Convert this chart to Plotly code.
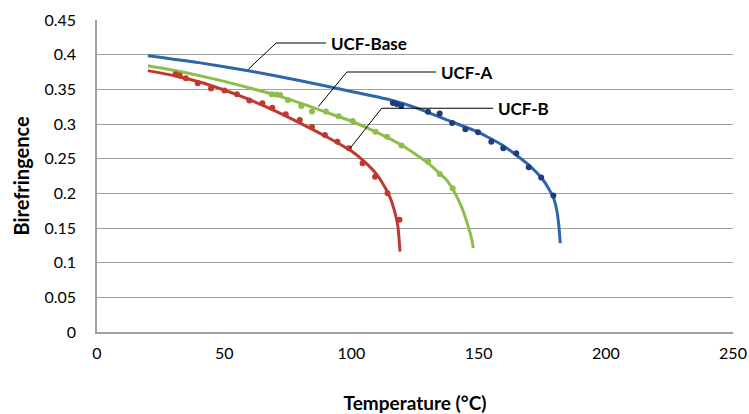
import plotly.graph_objects as go

# ---- data ----
base_fit_t = [20, 40, 60, 80, 100, 115, 125, 137.5, 150, 160, 170, 175, 177.5, 179.5, 180.7, 181.5, 182.1]
base_fit_n = [0.3985, 0.3885, 0.3765, 0.3625, 0.347, 0.335, 0.324, 0.306, 0.288, 0.268, 0.240, 0.221, 0.207, 0.193, 0.176, 0.155, 0.128]
base_pts_t = [116.3, 117.8, 119.6, 130.1, 134.7, 139.6, 144.8, 149.8, 155.0, 159.7, 164.8, 169.7, 174.6, 179.4]
base_pts_n = [0.3302, 0.3290, 0.3260, 0.3178, 0.3150, 0.3015, 0.2923, 0.2880, 0.2745, 0.2650, 0.2578, 0.2375, 0.2228, 0.1968]

a_fit_t = [20, 30, 40, 50, 60, 70, 80, 90, 100, 110, 120, 130, 137.5, 140, 143, 145, 146.5, 147.5, 147.9]
a_fit_n = [0.384, 0.3775, 0.370, 0.3615, 0.352, 0.342, 0.330, 0.317, 0.304, 0.288, 0.269, 0.244, 0.219, 0.205, 0.183, 0.163, 0.145, 0.130, 0.121]
a_pts_t = [68.7, 70.5, 72.0, 75.0, 80.3, 84.5, 90.0, 95.0, 100.5, 109.5, 114.0, 119.7, 130.2, 134.7, 139.8]
a_pts_n = [0.3430, 0.3425, 0.3418, 0.3346, 0.3260, 0.3180, 0.3180, 0.3112, 0.3045, 0.2890, 0.2815, 0.2690, 0.2456, 0.2280, 0.2072]

b_fit_t = [20, 30, 40, 50, 60, 70, 80, 90, 100, 105, 110, 113, 115, 117, 118.3, 119.1]
b_fit_n = [0.377, 0.370, 0.361, 0.349, 0.335, 0.319, 0.301, 0.282, 0.261, 0.246, 0.227, 0.210, 0.196, 0.174, 0.152, 0.116]
b_pts_t = [30.9, 32.5, 34.9, 39.6, 44.8, 50.1, 55.0, 59.9, 65.0, 68.9, 74.2, 79.7, 84.5, 89.6, 94.5, 99.0, 104.4, 109.3, 114.2, 118.9]
b_pts_n = [0.3717, 0.3700, 0.3660, 0.3587, 0.3512, 0.3483, 0.3430, 0.3340, 0.3300, 0.3235, 0.3140, 0.3058, 0.2955, 0.2840, 0.2745, 0.2650, 0.2433, 0.2240, 0.2000, 0.1620]

x_ticks = [0, 50, 100, 150, 200, 250]
y_ticks = [0, 0.05, 0.1, 0.15, 0.2, 0.25, 0.3, 0.35, 0.4, 0.45]
y_ticktext = ["0", "0.05", "0.1", "0.15", "0.2", "0.25", "0.3", "0.35", "0.4", "0.45"]

BLUE_LINE, BLUE_DOT = "#2F66AA", "#1F3C7C"
GREEN = "#8DBD4A"
RED = "#C0392F"
FONT = "Lato"

fig = go.Figure()
fig.add_trace(go.Scatter(x=base_fit_t, y=base_fit_n, mode="lines", line=dict(color=BLUE_LINE, width=3, shape="spline", smoothing=0.5), showlegend=False))
fig.add_trace(go.Scatter(x=a_fit_t, y=a_fit_n, mode="lines", line=dict(color=GREEN, width=3, shape="spline", smoothing=0.5), showlegend=False))
fig.add_trace(go.Scatter(x=b_fit_t, y=b_fit_n, mode="lines", line=dict(color=RED, width=3, shape="spline", smoothing=0.5), showlegend=False))
fig.add_trace(go.Scatter(x=base_pts_t, y=base_pts_n, mode="markers", marker=dict(color=BLUE_DOT, size=6), showlegend=False))
fig.add_trace(go.Scatter(x=a_pts_t, y=a_pts_n, mode="markers", marker=dict(color=GREEN, size=6), showlegend=False))
fig.add_trace(go.Scatter(x=b_pts_t, y=b_pts_n, mode="markers", marker=dict(color=RED, size=6), showlegend=False))

# leader lines + labels
labels = [
    ("UCF-Base", [(59.5, 0.379), (70.4, 0.4168), (90.0, 0.4168)]),
    ("UCF-A", [(87.0, 0.325), (98.2, 0.375), (133.3, 0.375)]),
    ("UCF-B", [(99.5, 0.265), (111.9, 0.3227), (155.8, 0.3227)]),
]
for text, pts in labels:
    path = "M " + " L ".join(f"{x},{y}" for x, y in pts)
    fig.add_shape(type="path", path=path, xref="x", yref="y", line=dict(color="black", width=1))
    fig.add_annotation(x=pts[-1][0] + 1.2, y=pts[-1][1], text=f"<b>{text}</b>", showarrow=False,
                       xanchor="left", yanchor="middle", font=dict(family=FONT, size=17, color="black"))

fig.update_layout(
    width=749, height=414,
    margin=dict(l=97, r=16, t=20, b=82),
    paper_bgcolor="white", plot_bgcolor="white",
    font=dict(family=FONT, size=16, color="black"),
)
fig.update_xaxes(range=[0, 250], tickvals=x_ticks, showgrid=False, zeroline=False, automargin=False,
                 showline=True, linecolor="#A0A0A0", linewidth=1.5, ticks="", ticklabelstandoff=6,
                 title=dict(text="<b>Temperature (°C)</b>", font=dict(family=FONT, size=19), standoff=36))
fig.update_yaxes(range=[0, 0.45], tickvals=y_ticks, ticktext=y_ticktext, showgrid=True,
                 gridcolor="#A0A0A0", gridwidth=1, zeroline=False, automargin=False,
                 showline=True, linecolor="#A0A0A0", linewidth=1.5, ticks="", ticklabelstandoff=16,
                 title=dict(text="<b>Birefringence</b>", font=dict(family=FONT, size=20), standoff=9))

fig.write_html("out.html", config={"displayModeBar": False},
               post_script="document.body.style.margin='0';document.body.style.overflow='hidden';")
